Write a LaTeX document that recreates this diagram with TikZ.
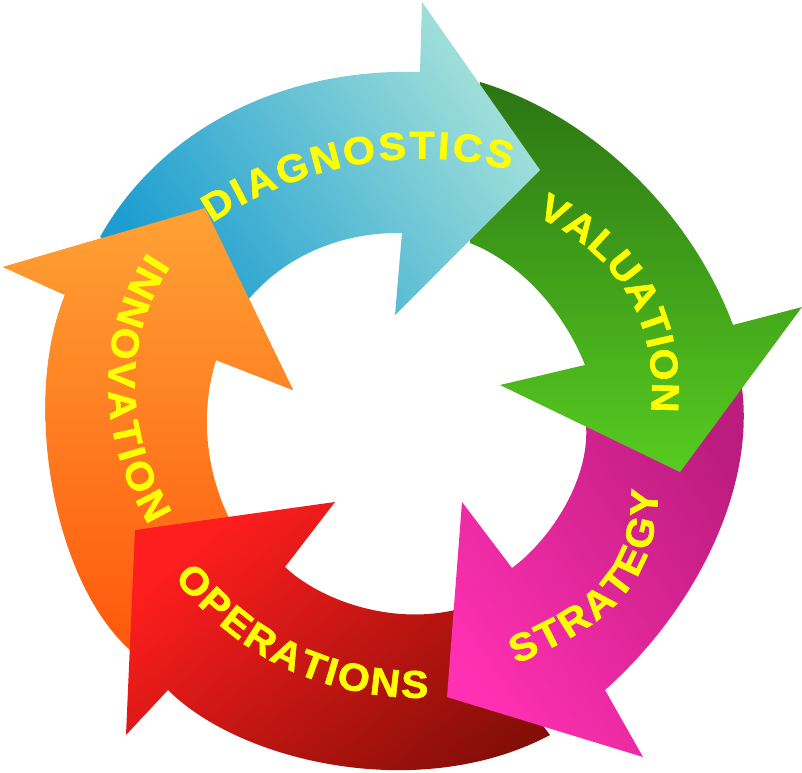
\documentclass[tikz,border=0pt]{standalone}
\usepackage{fontspec}
\setmainfont[BoldFeatures={FakeBold=1.6,FakeStretch=1.06}]{Liberation Sans}
\usetikzlibrary{decorations.text}
\definecolor{wordyellow}{HTML}{FFFF00}
\newcommand{\wordfont}{\fontsize{29}{29}\selectfont\bfseries\color{wordyellow}}
\newcommand{\orangepath}{(130,650) .. controls (52,580) and (22,400) .. (65,295) -- (3,267) -- (205,208) -- (293,390) -- (216,360) .. controls (200,410) and (205,470) .. (230,520) -- cycle}
\definecolor{blueA}{HTML}{1E9ED0}
\definecolor{blueB}{HTML}{A6E2DA}
\definecolor{greenA}{HTML}{2B7514}
\definecolor{greenM}{HTML}{4FBA20}
\definecolor{greenB}{HTML}{57CC20}
\definecolor{pinkA}{HTML}{BC1C7E}
\definecolor{pinkB}{HTML}{FF30B2}
\definecolor{redA}{HTML}{FF1E1E}
\definecolor{redB}{HTML}{860E08}
\definecolor{orangeA}{HTML}{FFA235}
\definecolor{orangeB}{HTML}{FF580C}
\tikzset{
	bluearrow/.style={bottom color=blueA,top color=blueB,shading angle=-55},
	greenarrow/.style={top color=greenA,middle color=greenM,bottom color=greenB},
	pinkarrow/.style={bottom color=pinkB,top color=pinkA,shading angle=-55},
	redarrow/.style={top color=redA,bottom color=redB,shading angle=40},
	orangearrow/.style={top color=orangeA,bottom color=orangeB},
	wordline/.style={decorate,decoration={text along path,text align=fit to path,text={|\wordfont|#1}}},
}

\begin{document}
\begin{tikzpicture}[x=0.75pt,y=-0.75pt]
	\useasboundingbox (0,0) rectangle (802,773);
	\fill[white] (0,0) rectangle (802,773);
	\shade[orangearrow] \orangepath;
	\shade[redarrow] (550,735) .. controls (420,804) and (240,762) .. (168,690) -- (126,735) -- (135,530) -- (335,502) -- (285,567) .. controls (320,600) and (390,625) .. (455,610) -- cycle;
	\shade[pinkarrow] (742,388) .. controls (755,490) and (695,610) .. (605,690) -- (643,757) -- (447,697) -- (462,502) -- (512,568) .. controls (550,540) and (590,480) .. (586,425) -- cycle;
	\shade[greenarrow] (480,82) .. controls (590,115) and (690,210) .. (733,325) -- (802,307) -- (680,472) -- (500,385) -- (585,365) .. controls (565,315) and (525,265) .. (470,243) -- cycle;
	\shade[bluearrow] (100,237) .. controls (160,130) and (280,68) .. (420,72) -- (422,2) -- (540,170) -- (395,315) -- (402,233) .. controls (350,232) and (290,250) .. (248,300) -- cycle;
	\begin{scope}
		\clip (0,0) rectangle (400,420);
		\shade[orangearrow] \orangepath;
	\end{scope}
	\path[wordline=DIAGNOSTICS] (212,223) .. controls (300,165) and (410,143) .. (510,170);
	\path[wordline=VALUATION] (536,216) .. controls (617,254) and (659,320) .. (651,412);
	\path[wordline=STRATEGY] (516,664) .. controls (603,627) and (657,590) .. (658,490);
	\path[wordline=OPERATIONS] (174,578) .. controls (245,665) and (330,698) .. (428,698);
	\path[wordline=INNOVATION] (148,252) .. controls (93,335) and (97,437) .. (149,525);
\end{tikzpicture}
\end{document}
